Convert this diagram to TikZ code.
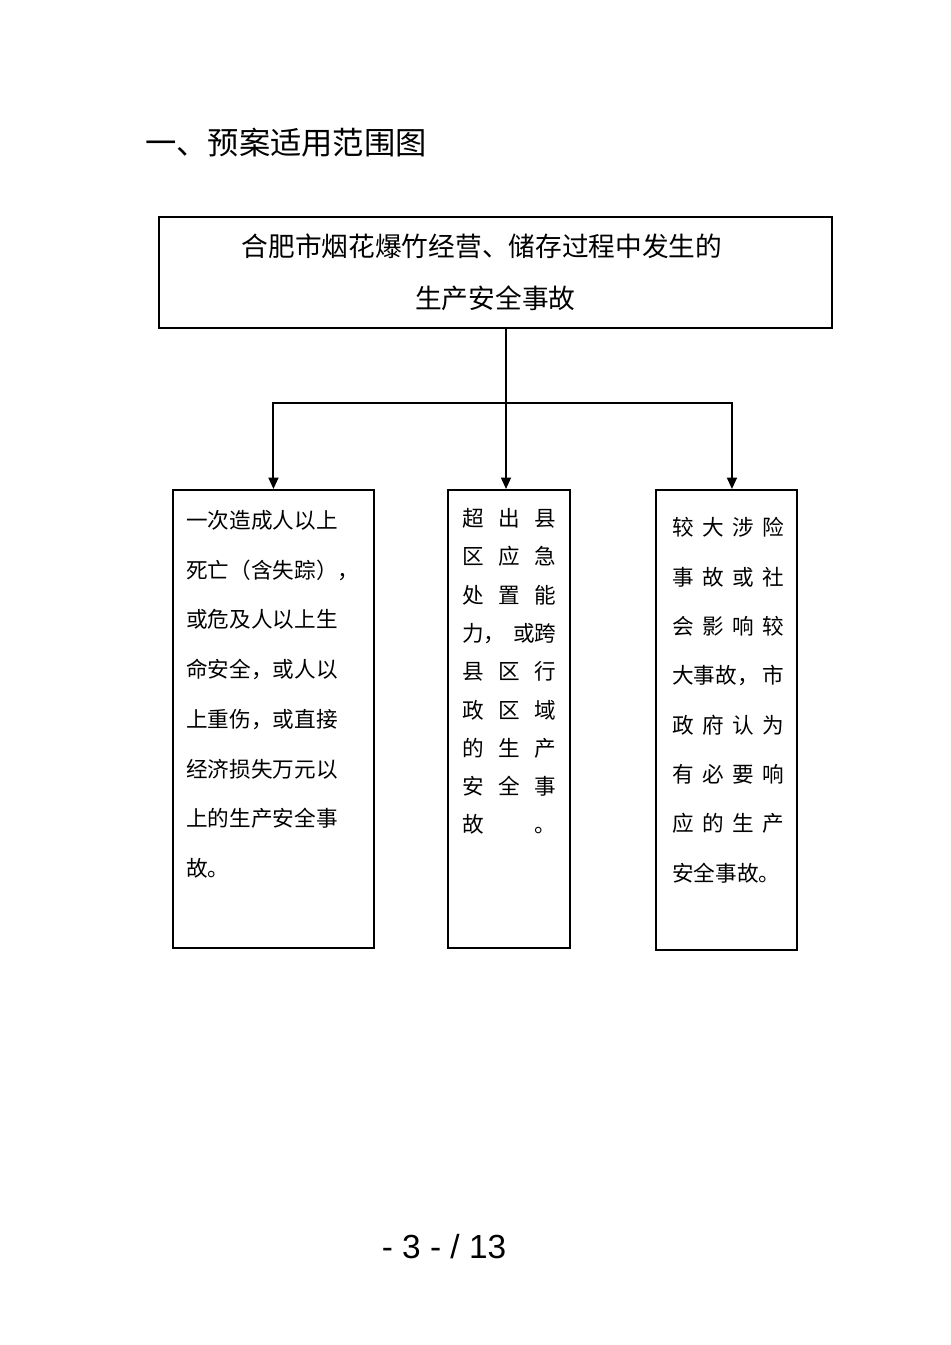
\documentclass[tikz,border=0pt]{standalone}
\usepackage{fontspec}
\setmainfont{Noto Sans CJK SC}
\newfontfamily\pagefont{Liberation Sans}
\usetikzlibrary{arrows.meta,positioning}

\tikzset{
  frame/.style={draw, line width=1.1pt, inner sep=0pt, anchor=north west},
  body/.style={inner sep=0pt, anchor=north west, align=left,
    font=\fontsize{12.3pt}{28.3pt}\selectfont},
  link/.style={line width=1.1pt},
  tip/.style={link, -{Triangle[length=2.3mm,width=2mm]}}
}

\begin{document}
\begin{tikzpicture}[x=0.02cm, y=-0.02cm]
  \useasboundingbox (0,0) rectangle (950,1345);

  % heading
  \node[anchor=west, font=\fontsize{17.8pt}{20pt}\selectfont] (title) at (139,143) {一、预案适用范围图};

  % top box
  \node[frame, minimum width=134.6mm, minimum height=22.2mm, align=center,
    font=\fontsize{15.2pt}{29.5pt}\selectfont] (scope) at (158,216)
    {合肥市烟花爆竹经营、储存过程中发生的\hspace*{1em}\\生产安全事故};

  % three cases
  \node[frame, minimum width=40.2mm, minimum height=91.6mm] (major) at (172,489) {};
  \node[frame, minimum width=24.4mm, minimum height=91.6mm] (county) at (447,489) {};
  \node[frame, minimum width=28.2mm, minimum height=92mm] (city) at (655,489) {};

  \node[body, text width=36mm] (majortxt) at (186,510)
    {一次造成人以上\\死亡（含失踪），\\或危及人以上生\\命安全，或人以\\上重伤，或直接\\经济损失万元以\\上的生产安全事\\故。};
  \node[body, text width=18.8mm, font=\fontsize{12.3pt}{21.8pt}\selectfont] (countytxt) at (462,508)
    {超\hfill 出\hfill 县\\区\hfill 应\hfill 急\\处\hfill 置\hfill 能\\力，\hfill 或跨\\县\hfill 区\hfill 行\\政\hfill 区\hfill 域\\的\hfill 生\hfill 产\\安\hfill 全\hfill 事\\故\hfill 。};
  \node[body, text width=22.4mm, font=\fontsize{12.3pt}{28.1pt}\selectfont] (citytxt) at (672,517)
    {较\hfill 大\hfill 涉\hfill 险\\事\hfill 故\hfill 或\hfill 社\\会\hfill 影\hfill 响\hfill 较\\大事故，\hfill 市\\政\hfill 府\hfill 认\hfill 为\\有\hfill 必\hfill 要\hfill 响\\应\hfill 的\hfill 生\hfill 产\\安全事故。};

  % connectors
  \coordinate (fork) at (506,403);
  \draw[tip] (scope.south -| fork) -- (fork |- county.north);
  \draw[tip] (fork) -| (major.north);
  \draw[tip] (fork) -| ([xshift=0.11cm]city.north);

  % page number
  \node[font=\pagefont\fontsize{19pt}{22pt}\selectfont] (pageno) at (444,1247) {- 3 - / 13};
\end{tikzpicture}
\end{document}
